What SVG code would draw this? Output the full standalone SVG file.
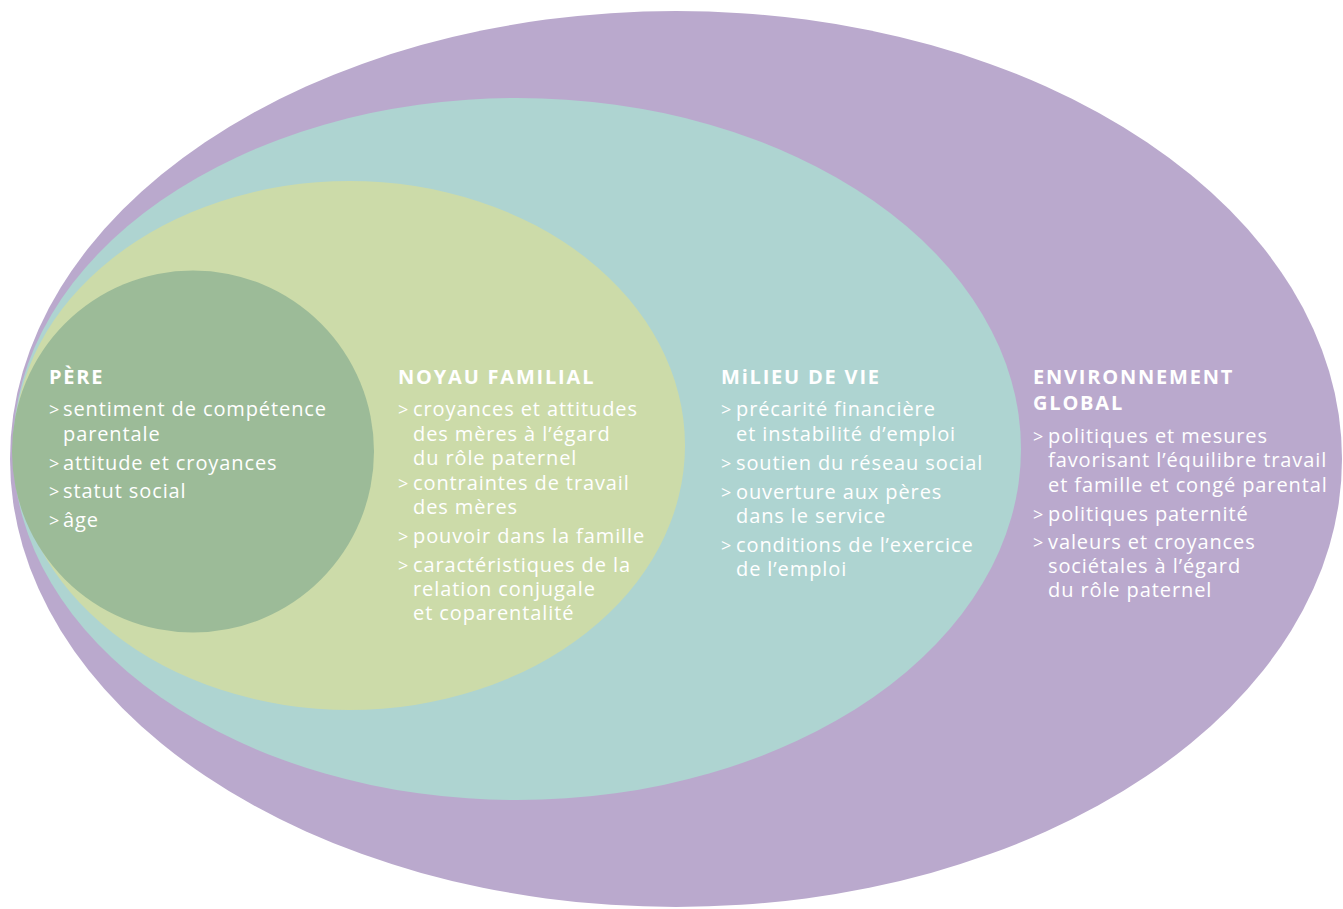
<svg xmlns="http://www.w3.org/2000/svg" width="1343" height="909" viewBox="0 0 1343 909">
<style>
.t{font-family:"Open Sans","Liberation Sans",sans-serif;font-size:20px;letter-spacing:0.9px;fill:#ffffff;}
.h{font-family:"Open Sans","Liberation Sans",sans-serif;font-size:20px;font-weight:bold;letter-spacing:1.8px;fill:#ffffff;}
.b{font-family:"Open Sans","Liberation Sans",sans-serif;font-size:18px;fill:#ffffff;}
</style>
<rect width="1343" height="909" fill="#ffffff"/>
<g id="environnement">
<ellipse cx="676" cy="459" rx="666" ry="448" fill="#baa9cd"/>
</g>
<g id="milieu">
<ellipse cx="517" cy="449" rx="504" ry="351" fill="#aed4d1"/>
</g>
<g id="noyau">
<ellipse cx="349.5" cy="445.5" rx="335.5" ry="264.5" fill="#ccdba9"/>
</g>
<g id="pere">
<circle cx="193" cy="451.5" r="181" fill="#9cbb98"/>
</g>
<g id="connectors"></g>
<g id="pere-text">
<text class="h" x="49" y="384">PÈRE</text>
<text class="b" x="49" y="416">&gt;</text><text class="t" x="63" y="416">sentiment de compétence</text>
<text class="t" x="63" y="441">parentale</text>
<text class="b" x="49" y="470">&gt;</text><text class="t" x="63" y="470">attitude et croyances</text>
<text class="b" x="49" y="498">&gt;</text><text class="t" x="63" y="498">statut social</text>
<text class="b" x="49" y="527">&gt;</text><text class="t" x="63" y="527">âge</text>
</g>
<g id="noyau-text">
<text class="h" x="398" y="384">NOYAU FAMILIAL</text>
<text class="b" x="398" y="416">&gt;</text><text class="t" x="413" y="416">croyances et attitudes</text>
<text class="t" x="413" y="441">des mères à l’égard</text>
<text class="t" x="413" y="465">du rôle paternel</text>
<text class="b" x="398" y="490">&gt;</text><text class="t" x="413" y="490">contraintes de travail</text>
<text class="t" x="413" y="514">des mères</text>
<text class="b" x="398" y="543">&gt;</text><text class="t" x="413" y="543">pouvoir dans la famille</text>
<text class="b" x="398" y="572">&gt;</text><text class="t" x="413" y="572">caractéristiques de la</text>
<text class="t" x="413" y="596">relation conjugale</text>
<text class="t" x="413" y="620">et coparentalité</text>
</g>
<g id="milieu-text">
<text class="h" x="721" y="384">MiLIEU DE VIE</text>
<text class="b" x="721" y="416">&gt;</text><text class="t" x="736" y="416">précarité financière</text>
<text class="t" x="736" y="441">et instabilité d’emploi</text>
<text class="b" x="721" y="470">&gt;</text><text class="t" x="736" y="470">soutien du réseau social</text>
<text class="b" x="721" y="499">&gt;</text><text class="t" x="736" y="499">ouverture aux pères</text>
<text class="t" x="736" y="523">dans le service</text>
<text class="b" x="721" y="552">&gt;</text><text class="t" x="736" y="552">conditions de l’exercice</text>
<text class="t" x="736" y="576">de l’emploi</text>
</g>
<g id="environnement-text">
<text class="h" x="1033" y="384">ENVIRONNEMENT</text>
<text class="h" x="1033" y="410">GLOBAL</text>
<text class="b" x="1033" y="443">&gt;</text><text class="t" x="1048" y="443">politiques et mesures</text>
<text class="t" x="1048" y="467">favorisant l’équilibre travail</text>
<text class="t" x="1048" y="492">et famille et congé parental</text>
<text class="b" x="1033" y="521">&gt;</text><text class="t" x="1048" y="521">politiques paternité</text>
<text class="b" x="1033" y="549">&gt;</text><text class="t" x="1048" y="549">valeurs et croyances</text>
<text class="t" x="1048" y="573">sociétales à l’égard</text>
<text class="t" x="1048" y="597">du rôle paternel</text>
</g>
</svg>
